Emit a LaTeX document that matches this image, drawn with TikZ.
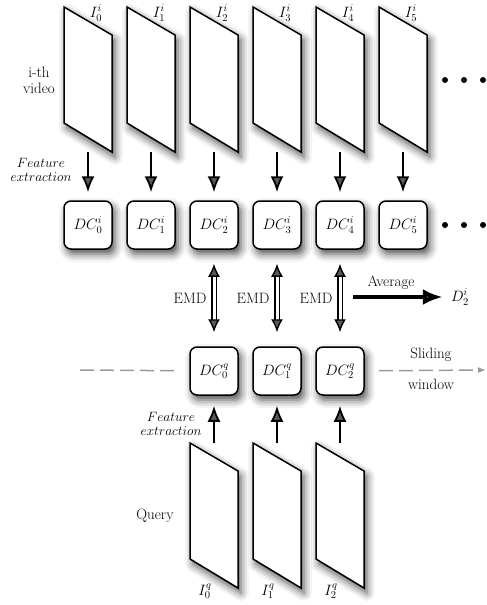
\RequirePackage{fix-cm}
\documentclass[tikz,border=0pt]{standalone}
\usetikzlibrary{arrows.meta,shadows.blur}

\begin{document}
\begin{tikzpicture}
[every node/.style={inner sep=0pt, font=\fontsize{15}{16}\selectfont},
 softshadow/.style={blur shadow={shadow xshift=3pt, shadow yshift=-5pt, shadow blur radius=8pt, shadow opacity=70}},
 frame/.style={fill=white, line width=1.5pt, draw=black, line join=miter, softshadow},
 dcbox/.style={rectangle, rounded corners=7pt, minimum size=48pt, fill=white, line width=1.5pt, draw=black, softshadow},
 extract/.style={line width=1.8pt, -{Latex[length=16pt, width=13pt]}},
 emd/.style={double, double distance=3pt, line width=1.4pt, {Latex[length=13pt, width=12pt]}-{Latex[length=13pt, width=12pt]}},
 slide/.style={color=gray!80, line width=1.5pt, dash pattern=on 14pt off 6pt},
 more/.style={circle, fill=black, minimum size=6pt},
 small/.style={font=\fontsize{13.5}{14}\selectfont, align=center}]
\useasboundingbox (0pt, 0pt) rectangle (487pt, -605pt);
% frames of the i-th video
\draw [frame] (64pt, -7pt) -- (112pt, -35pt) -- (112pt, -152pt) -- (64pt, -123pt) -- cycle;
\draw [frame] (127pt, -7pt) -- (175pt, -35pt) -- (175pt, -152pt) -- (127pt, -123pt) -- cycle;
\draw [frame] (190pt, -7pt) -- (238pt, -35pt) -- (238pt, -152pt) -- (190pt, -123pt) -- cycle;
\draw [frame] (253pt, -7pt) -- (301pt, -35pt) -- (301pt, -152pt) -- (253pt, -123pt) -- cycle;
\draw [frame] (316pt, -7pt) -- (364pt, -35pt) -- (364pt, -152pt) -- (316pt, -123pt) -- cycle;
\draw [frame] (379pt, -7pt) -- (427pt, -35pt) -- (427pt, -152pt) -- (379pt, -123pt) -- cycle;
\node (ii0) at (96pt, -13pt) {$I_0^i$};
\node (ii1) at (159pt, -13pt) {$I_1^i$};
\node (ii2) at (222pt, -13pt) {$I_2^i$};
\node (ii3) at (285pt, -13pt) {$I_3^i$};
\node (ii4) at (348pt, -13pt) {$I_4^i$};
\node (ii5) at (411pt, -13pt) {$I_5^i$};
\node (video) [align=center] at (39pt, -80pt) {i-th\\video};
\node (m1) [more] at (445pt, -80pt) {};
\node (m2) [more] at (464pt, -80pt) {};
\node (m3) [more] at (483pt, -80pt) {};
\coordinate (fa0) at (88pt, -152pt);
\coordinate (fa1) at (151pt, -152pt);
\coordinate (fa2) at (214pt, -152pt);
\coordinate (fa3) at (277pt, -152pt);
\coordinate (fa4) at (340pt, -152pt);
\coordinate (fa5) at (403pt, -152pt);
\node (fe1) [small] at (41pt, -170pt) {$Feature$\\$extraction$};
% descriptors of the i-th video
\node (di0) [dcbox] at (88pt, -225pt) {$DC_0^i$};
\node (di1) [dcbox] at (151pt, -225pt) {$DC_1^i$};
\node (di2) [dcbox] at (214pt, -225pt) {$DC_2^i$};
\node (di3) [dcbox] at (277pt, -225pt) {$DC_3^i$};
\node (di4) [dcbox] at (340pt, -225pt) {$DC_4^i$};
\node (di5) [dcbox] at (403pt, -225pt) {$DC_5^i$};
\node (m4) [more] at (445pt, -225pt) {};
\node (m5) [more] at (464pt, -225pt) {};
\node (m6) [more] at (483pt, -225pt) {};
\draw [extract, shorten >=8pt] (fa0) -- (di0);
\draw [extract, shorten >=8pt] (fa1) -- (di1);
\draw [extract, shorten >=8pt] (fa2) -- (di2);
\draw [extract, shorten >=8pt] (fa3) -- (di3);
\draw [extract, shorten >=8pt] (fa4) -- (di4);
\draw [extract, shorten >=8pt] (fa5) -- (di5);
% descriptors of the query
\node (dq0) [dcbox] at (214pt, -371pt) {$DC_0^q$};
\node (dq1) [dcbox] at (277pt, -371pt) {$DC_1^q$};
\node (dq2) [dcbox] at (340pt, -371pt) {$DC_2^q$};
\draw [emd, shorten <=14pt, shorten >=14pt] (di2) -- (dq0);
\draw [emd, shorten <=14pt, shorten >=14pt] (di3) -- (dq1);
\draw [emd, shorten <=14pt, shorten >=14pt] (di4) -- (dq2);
\node (emd0) at (190pt, -298pt) {EMD};
\node (emd1) at (253pt, -298pt) {EMD};
\node (emd2) at (316pt, -298pt) {EMD};
\coordinate (avg) at (353pt, -297pt);
\node (d2) at (460pt, -297pt) {$D_2^i$};
\node (average) at (391pt, -283pt) {Average};
\draw [line width=4.5pt, -{Latex[length=20pt, width=16pt]}, shorten >=8pt] (avg) -- (d2);
\coordinate (sl) at (80pt, -370pt);
\coordinate (sr) at (486pt, -370pt);
\draw [slide, shorten >=12pt] (sl) -- (dq0);
\draw [slide, -{Latex[length=8pt, width=6pt]}, shorten <=14pt] (dq2) -- (sr);
\node (sliding) at (431pt, -355pt) {Sliding};
\node (window) at (431pt, -384pt) {window};
% frames of the query
\draw [frame] (190pt, -443pt) -- (238pt, -471pt) -- (238pt, -588pt) -- (190pt, -559pt) -- cycle;
\draw [frame] (253pt, -443pt) -- (301pt, -471pt) -- (301pt, -588pt) -- (253pt, -559pt) -- cycle;
\draw [frame] (316pt, -443pt) -- (364pt, -471pt) -- (364pt, -588pt) -- (316pt, -559pt) -- cycle;
\coordinate (qa0) at (214pt, -443pt);
\coordinate (qa1) at (277pt, -443pt);
\coordinate (qa2) at (340pt, -443pt);
\draw [extract, shorten >=10pt] (qa0) -- (dq0);
\draw [extract, shorten >=10pt] (qa1) -- (dq1);
\draw [extract, shorten >=10pt] (qa2) -- (dq2);
\node (fe2) [small] at (171pt, -424pt) {$Feature$\\$extraction$};
\node (query) at (155pt, -516pt) {Query};
\node (iq0) at (205pt, -591pt) {$I_0^q$};
\node (iq1) at (268pt, -591pt) {$I_1^q$};
\node (iq2) at (331pt, -591pt) {$I_2^q$};
\end{tikzpicture}
\end{document}
